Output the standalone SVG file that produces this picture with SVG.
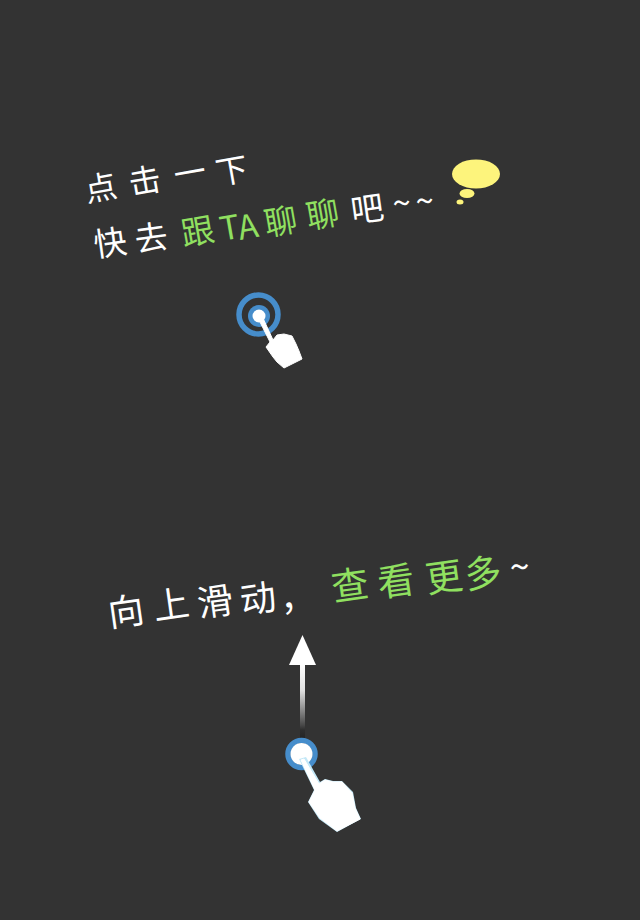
<svg xmlns="http://www.w3.org/2000/svg" width="640" height="920" viewBox="0 0 640 920">
<style>
text{font-family:"Noto Sans CJK SC","Noto Sans",sans-serif;font-weight:400;text-anchor:middle}
.w{fill:#fff}.g{fill:#90e060}
.ring{fill:none;stroke:#468dcb}
.hand{fill:#fff;stroke:#fff;stroke-linejoin:round}
.finger{fill:none;stroke-linecap:round}
.bubble{fill:#fdf47c}
</style>
<defs>
<linearGradient id="fade" x1="0" y1="0" x2="0" y2="1">
<stop offset="0" stop-color="#fff"/><stop offset="0.4" stop-color="#fff" stop-opacity="0.85"/><stop offset="1" stop-color="#fff" stop-opacity="0"/>
</linearGradient>
<linearGradient id="shade" x1="0" y1="0" x2="0" y2="1">
<stop offset="0" stop-color="#222" stop-opacity="0"/><stop offset="0.3" stop-color="#222"/><stop offset="1" stop-color="#222" stop-opacity="0"/>
</linearGradient>
</defs>
<rect width="640" height="920" fill="#333"/>
<g id="tip-tap">
<text class="w" font-size="32" x="103 147 192 234" y="202 195 187 185" rotate="-10 -10 -10 -10">点击一下</text>
<text class="w" font-size="33" x="112 153 200 232 250 283 325 369 403 426" y="257 252 246 241 240 236 229 223 216 214" rotate="-8 -8 -10 -10 -10 -10 -10 -8 -6 -6">快去<tspan class="g">跟TA聊聊</tspan>吧~~</text>
</g>
<g id="thought-bubble">
<ellipse class="bubble" cx="476" cy="174" rx="24" ry="14.500"/>
<ellipse class="bubble" cx="467" cy="193.500" rx="7.500" ry="4.500"/>
<ellipse class="bubble" cx="460" cy="202" rx="3.500" ry="2.500"/>
</g>
<g id="tap-gesture">
<circle class="ring" cx="258.500" cy="314.500" r="19.500" stroke-width="5.500"/>
<circle cx="259" cy="316" r="11" fill="#468dcb"/>
<circle cx="259" cy="316" r="6.500" fill="#fff"/>
<path class="hand" d="M258 318L262 316L273 340L277 335L284 334L292 336L296 344L299 351L302 359L284 368L277 362L273 357L266 347L270 342Z"/>
</g>
<g id="tip-swipe">
<text class="w" font-size="36" x="128 173 217 260 299 352 398 446 485 521" y="627 620 617 614 612 601 597 593 589 581" rotate="-8 -8 -8 -8 -8 -8 -8 -8 -8 -6">向上滑动，<tspan class="g" font-size="37">查看更多</tspan>~</text>
</g>
<g id="connectors">
<rect x="300" y="725" width="5" height="50" fill="url(#shade)"/>
<rect x="300" y="664" width="5" height="66" fill="url(#fade)"/>
<path d="M302.500 635L316 665H289Z" fill="#fff"/>
</g>
<g id="swipe-gesture">
<circle class="ring" cx="301.500" cy="754" r="13.500" stroke-width="5.500"/>
<circle cx="301.500" cy="754" r="11" fill="#fff"/>
<path d="M299 759L306 757L320 782L325 779L333 781L342 781L353 792L356 808L361 819L337 832L319 819L308 802L314 790Z" fill="#c4e8f7"/>
<path class="hand" d="M301 760L304 759L319 784L325 780L333 782L342 782L352 793L355 808L360 819L337 831L320 818L309 802L315 790Z"/>
</g>
</svg>
